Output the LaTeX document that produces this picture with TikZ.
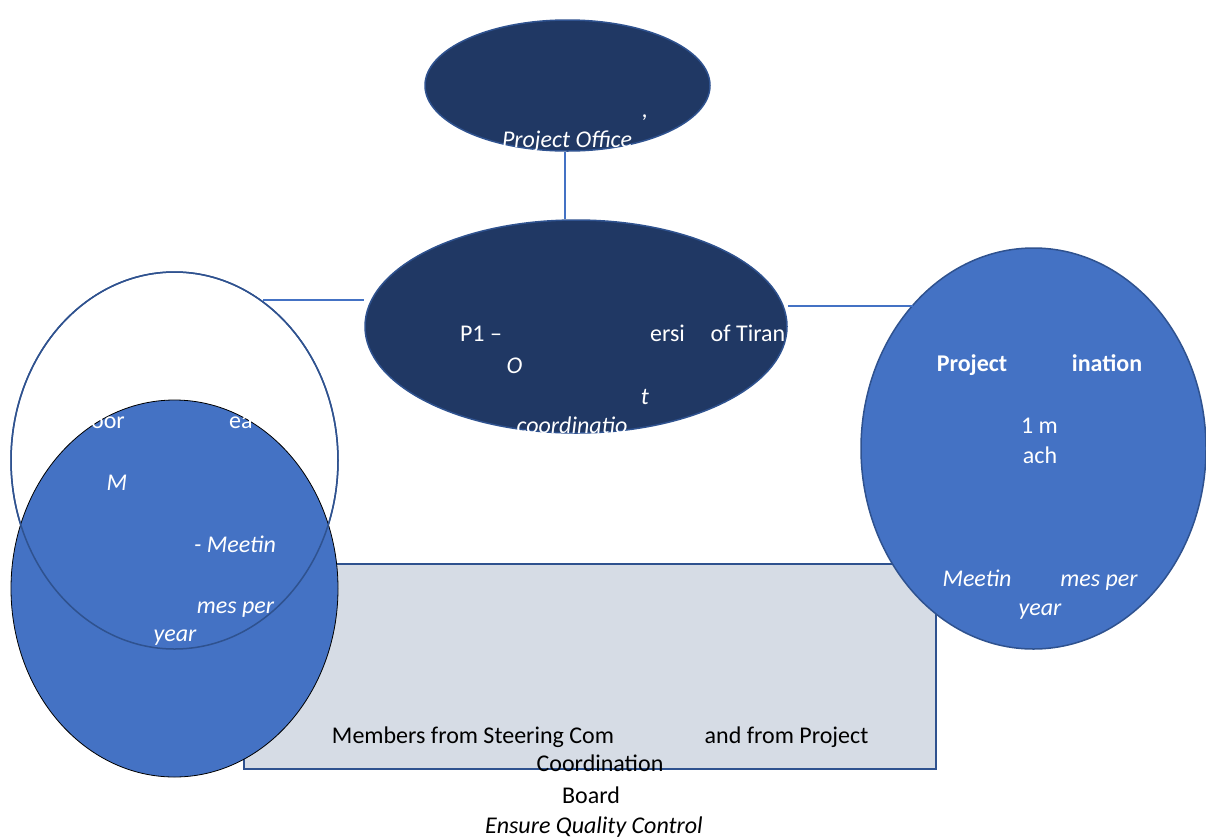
\documentclass[tikz,border=0pt]{standalone}
\usepackage{fontspec}
\setmainfont{Carlito}
\usetikzlibrary{shapes.geometric}
\definecolor{navy}{HTML}{203864}
\definecolor{accblue}{HTML}{4472C4}
\definecolor{edge}{HTML}{2F528F}
\definecolor{panel}{HTML}{D6DCE5}
\begin{document}
\begin{tikzpicture}[x=1pt,y=-1pt,
  ell/.style={ellipse, inner sep=0pt, draw=edge, line width=1.5pt},
  conn/.style={draw=accblue, line width=1.1pt},
  txt/.style={inner sep=0pt, anchor=base, font=\fontsize{24}{29}\selectfont},
  wt/.style={txt, text=white},
  wti/.style={wt, font=\fontsize{24}{29}\selectfont\itshape},
  wtb/.style={wt, font=\fontsize{24}{29}\selectfont\bfseries},
  bt/.style={txt, text=black},
  bti/.style={bt, font=\fontsize{24}{29}\selectfont\itshape}]
\useasboundingbox (0,0) rectangle (1206,836);
% panel
\node[rectangle, draw=edge, line width=1.5pt, fill=panel, inner sep=0pt,
      minimum width=692pt, minimum height=205pt] (panel) at (590,666.5) {};
% left ellipses
\node[ell, fill=white, minimum width=327pt, minimum height=377pt] (lwhite) at (174.5,460.5) {};
\node[ellipse, inner sep=0pt, fill=accblue, draw=black, line width=0.8pt,
      minimum width=327pt, minimum height=377pt] (lblue) at (174.5,588.5) {};
\draw[draw=edge, line width=1.5pt] (lwhite.center) ellipse [x radius=163.5pt, y radius=188.5pt];
% right ellipse
\node[ell, fill=accblue, minimum width=345pt, minimum height=401pt] (rblue) at (1033.5,448.5) {};
% top and middle ellipses
\node[ell, fill=navy, minimum width=285pt, minimum height=131pt] (top) at (567.5,85.5) {};
\node[ell, fill=navy, minimum width=422pt, minimum height=213pt] (mid) at (576,326.5) {};
% connectors
\coordinate (vx) at (565,0);
\draw[conn] (vx |- top.south) -- (vx |- mid.north);
\coordinate (lend) at (263,300);
\draw[conn] (lend) -- (lend -| mid.west);
\coordinate (rend) at (913,306);
\draw[conn] (rend -| mid.east) -- (rend);
% top texts
\node[wti] (t1) at (645,117) {,};
\node[wti] (t2) at (567,147) {Project Office};
% middle texts
\node[wt] (m1) at (481,341) {P1 –};
\node[wt] (m2) at (667.5,341) {ersi};
\node[wt] (m3) at (748,341) {of Tiran};
\node[wti] (m4) at (514.5,373) {O};
\node[wti] (m5) at (645,404) {t};
\node[wti] (m6) at (572,433) {coordinatio};
% left texts
\node[wt, anchor=base east] (l1) at (125,428) {oor};
\node[wt, anchor=base west] (l2) at (229,428) {ea};
\node[wti] (l3) at (117,490) {M};
\node[wti] (l4) at (235,552) {- Meetin};
\node[wti] (l5) at (235.5,613) {mes per};
\node[wti] (l6) at (175,641) {year};
% right texts
\node[wtb] (r1) at (972,371) {Project};
\node[wtb] (r2) at (1107,371) {ination};
\node[wt] (r3) at (1039.5,433) {1 m};
\node[wt] (r4) at (1040,463) {ach};
\node[wti] (r5) at (977,586) {Meetin};
\node[wti] (r6) at (1099,586) {mes per};
\node[wti] (r7) at (1040,615) {year};
% panel texts
\node[bt] (p1) at (473,743) {Members from Steering Com};
\node[bt] (p2) at (786.5,743) {and from Project};
\node[bt] (p3) at (600,771) {Coordination};
\node[bt] (p4) at (591,803) {Board};
\node[bti] (p5) at (594,833) {Ensure Quality Control};
\end{tikzpicture}
\end{document}
